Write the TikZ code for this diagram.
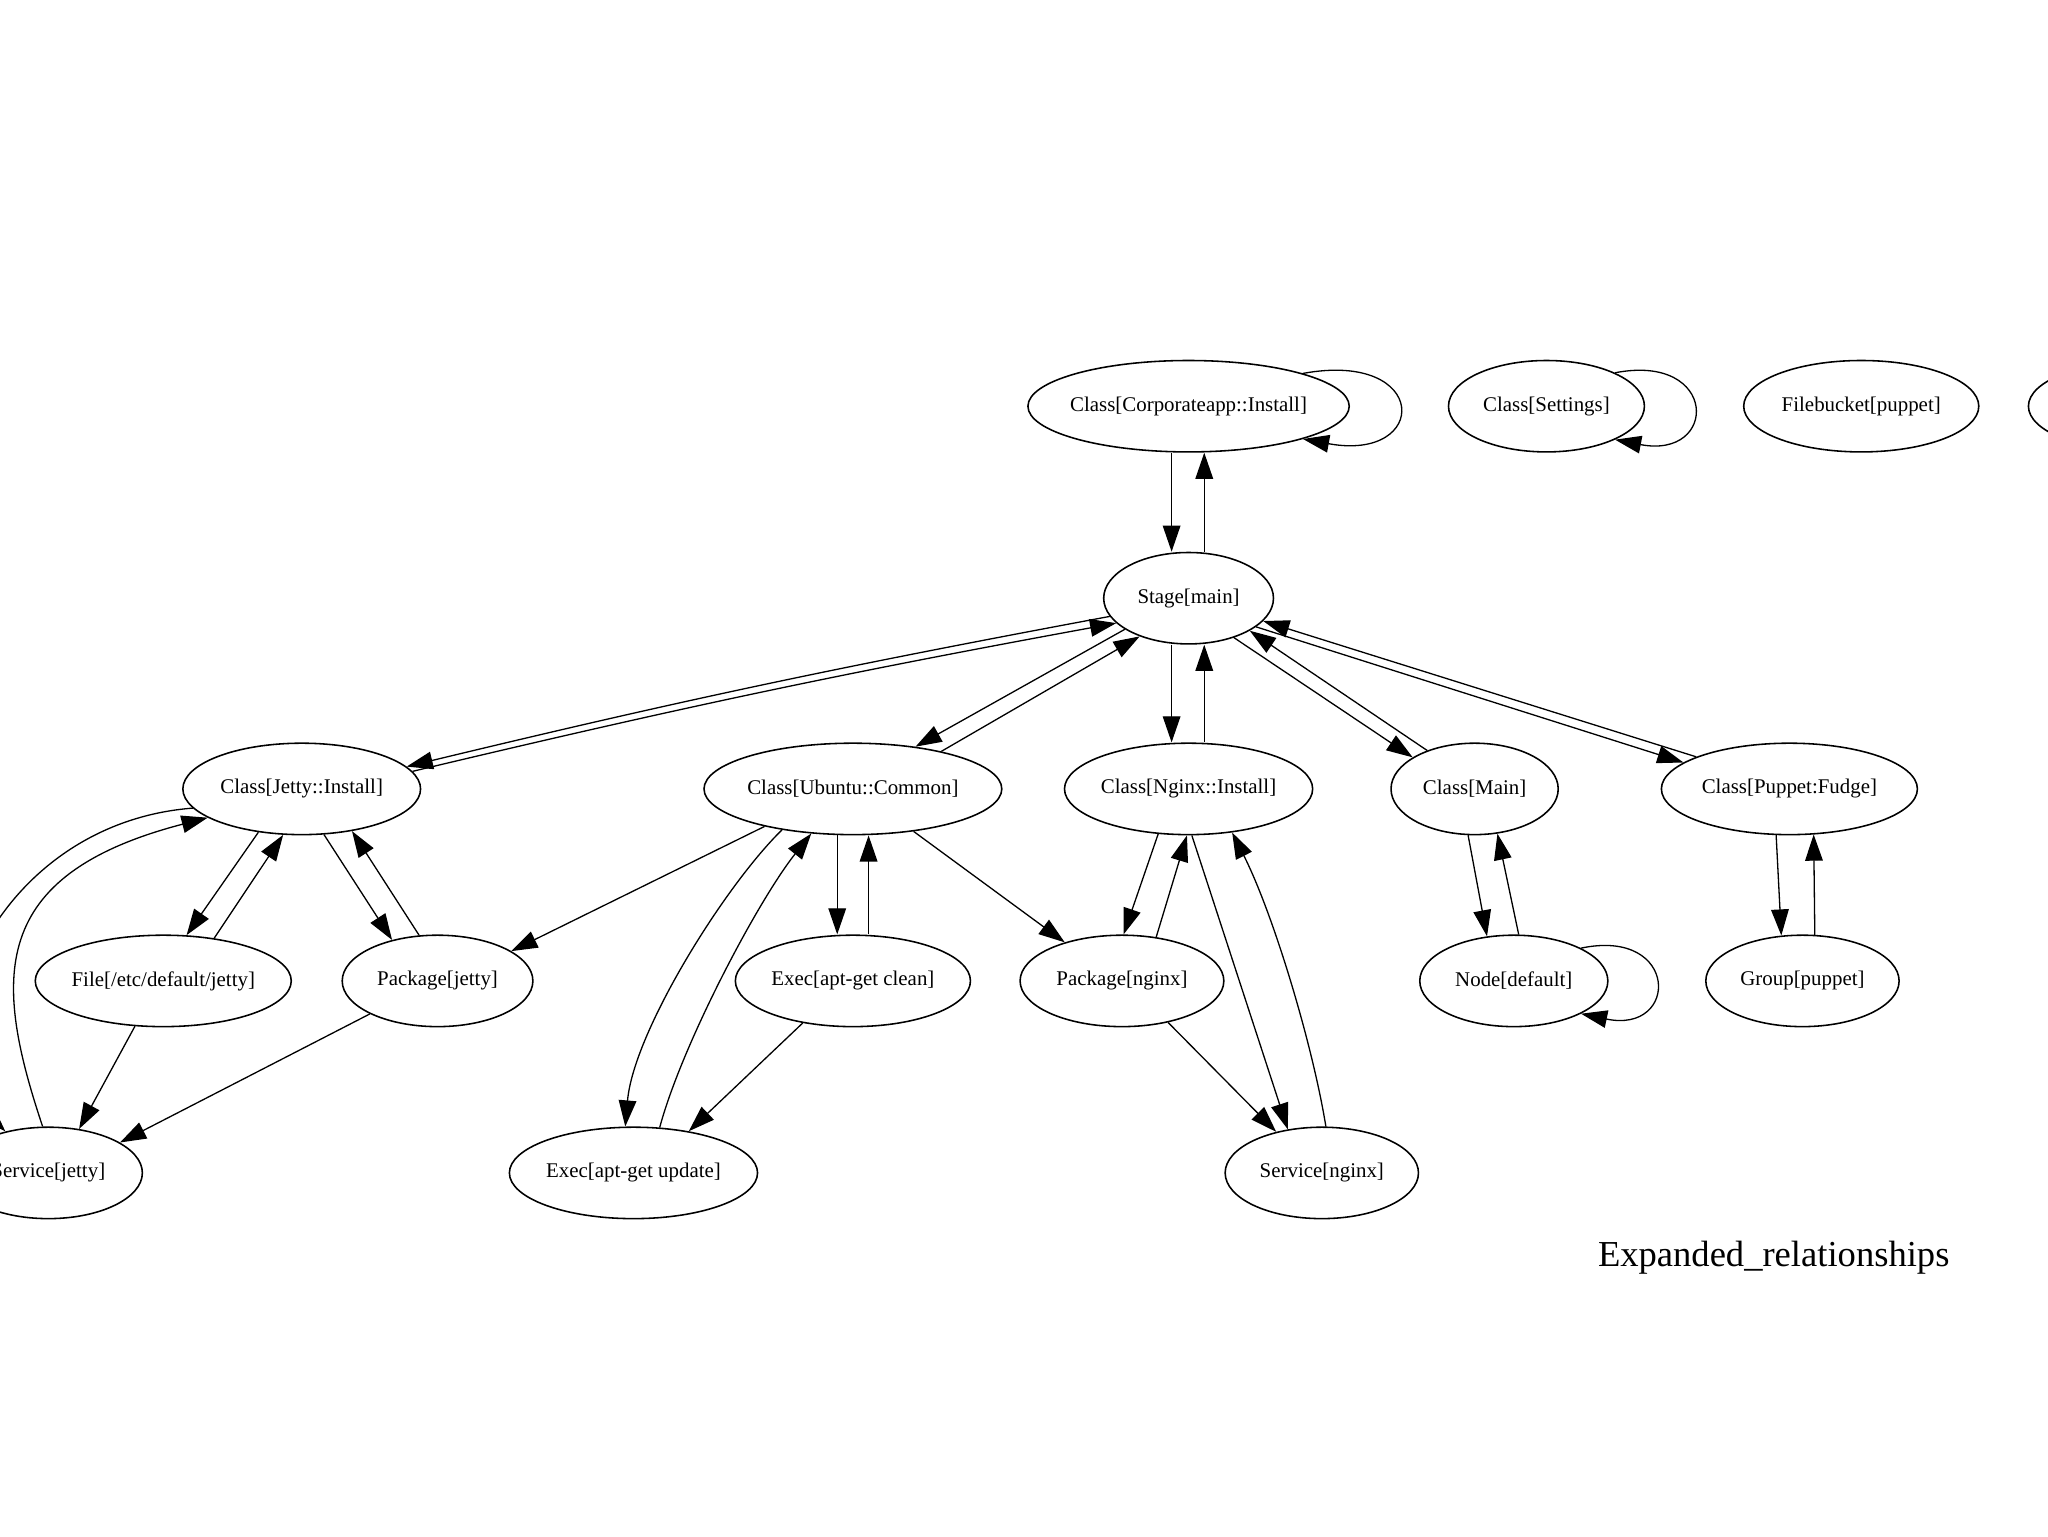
\documentclass[tikz,border=0pt]{standalone}
\usepackage{fontspec}
\setmainfont{Liberation Serif}
\usetikzlibrary{shapes.geometric,arrows.meta}
\newcommand{\gvlabel}[1]{\makebox[0pt][c]{#1}}
\tikzset{
  gv/.style={ellipse, draw, line width=1.2pt, inner sep=0pt, minimum height=70pt,
    font=\fontsize{16}{19}\selectfont},
  arr/.style={line width=1pt, -{Triangle[length=20pt,width=13.5pt]}},
  titletext/.style={font=\fontsize{28}{32}\selectfont, inner sep=0pt, anchor=base}
}
\begin{document}
\begin{tikzpicture}[x=1pt,y=-1pt]
\useasboundingbox (0,0) rectangle (1568,1176);
\fill[white] (0,0) rectangle (1568,1176);
\clip (0,0) rectangle (1568,1176);

% row 1
\node[gv, minimum width=246pt] (corp) at (910,311) {\gvlabel{Class[Corporateapp::Install]}};
\node[gv, minimum width=150pt] (settings) at (1184,311) {\gvlabel{Class[Settings]}};
\node[gv, minimum width=180pt] (filebucket) at (1425,311) {\gvlabel{Filebucket[puppet]}};
\node[gv, minimum width=180pt] (offright) at (1643,311) {};
% stage
\node[gv, minimum width=130pt] (stage) at (910,458) {\gvlabel{Stage[main]}};
% row 2
\node[gv, minimum width=182pt] (jetty) at (231,604) {\gvlabel{Class[Jetty::Install]}};
\node[gv, minimum width=228pt] (ubuntu) at (653,604) {\gvlabel{Class[Ubuntu::Common]}};
\node[gv, minimum width=190pt] (nginx) at (910,604) {\gvlabel{Class[Nginx::Install]}};
\node[gv, minimum width=128pt] (main) at (1129,604) {\gvlabel{Class[Main]}};
\node[gv, minimum width=196pt] (fudge) at (1370,604) {\gvlabel{Class[Puppet:Fudge]}};
% row 3
\node[gv, minimum width=196pt] (file) at (125,751) {\gvlabel{File[/etc/default/jetty]}};
\node[gv, minimum width=146pt] (pkgjetty) at (335,751) {\gvlabel{Package[jetty]}};
\node[gv, minimum width=180pt] (clean) at (653,751) {\gvlabel{Exec[apt-get clean]}};
\node[gv, minimum width=156pt] (pkgnginx) at (859,751) {\gvlabel{Package[nginx]}};
\node[gv, minimum width=144pt] (nodedef) at (1159,751) {\gvlabel{Node[default]}};
\node[gv, minimum width=148pt] (group) at (1380,751) {\gvlabel{Group[puppet]}};
% row 4
\node[gv, minimum width=144pt] (svcjetty) at (37,898) {\gvlabel{Service[jetty]}};
\node[gv, minimum width=190pt] (update) at (485,898) {\gvlabel{Exec[apt-get update]}};
\node[gv, minimum width=148pt] (svcnginx) at (1012,898) {\gvlabel{Service[nginx]}};
% title
\node[titletext] (title) at (1358,970) {Expanded\_relationships};

% corp <-> stage, self loops
\draw[arr] ([xshift=-13pt]corp.south) -- ([xshift=-13pt]stage.north);
\draw[arr] ([xshift=12pt]stage.north) -- ([xshift=12pt]corp.south);
\draw[arr] (corp.16) .. controls (1095,268) and (1095,354) .. (corp.-16);
\draw[arr] (settings.26) .. controls (1316,270) and (1316,352) .. (settings.-26);
\draw[arr] (nodedef.26) .. controls (1286,710) and (1286,792) .. (nodedef.-26);

% stage <-> row 2
\draw[arr] (stage.193) to[bend right=1.5] (jetty.12);
\draw[arr] (jetty.9) to[bend left=1.5] (stage.199);
\draw[arr] (stage.206) -- (ubuntu.34);
\draw[arr] (ubuntu.23) -- (stage.218);
\draw[arr] ([xshift=-13pt]stage.south) -- ([xshift=-13pt]nginx.north);
\draw[arr] ([xshift=12pt]nginx.north) -- ([xshift=12pt]stage.south);
\draw[arr] (stage.319) -- (main.153);
\draw[arr] (main.141) -- (stage.332);
\draw[arr] (stage.337) -- (fudge.166);
\draw[arr] (fudge.161) -- (stage.343);

% jetty family
\draw[arr] (jetty.225) -- (file.63);
\draw[arr] (file.40) -- (jetty.248);
\draw[arr] (jetty.296) -- (pkgjetty.138);
\draw[arr] (pkgjetty.112) -- (jetty.320);
\draw[arr] (file.238) -- (svcjetty.55);
\draw[arr] (pkgjetty.206) -- (svcjetty.23);
\draw[arr] (jetty.190) .. controls (0,630) and (-70,790) .. (svcjetty.136);
\draw[arr] (svcjetty.97) .. controls (-5,750) and (-10,670) .. (jetty.197);

% ubuntu family
\draw[arr] (ubuntu.203) -- (pkgjetty.22);
\draw[arr] (ubuntu.210) .. controls (555,678) and (485,790) .. (update.100);
\draw[arr] (update.60) .. controls (522,800) and (580,690) .. (ubuntu.227);
\draw[arr] ([xshift=-12pt]ubuntu.south) -- ([xshift=-12pt]clean.north);
\draw[arr] ([xshift=12pt]clean.north) -- ([xshift=12pt]ubuntu.south);
\draw[arr] (ubuntu.325) -- (pkgnginx.146);
\draw[arr] (clean.220) -- (update.37);

% nginx family
\draw[arr] (nginx.236) -- (pkgnginx.88);
\draw[arr] (pkgnginx.52) -- (nginx.268);
\draw[arr] (nginx.274) -- (svcnginx.128);
\draw[arr] (svcnginx.85) .. controls (1005,800) and (975,700) .. (nginx.315);
\draw[arr] (pkgnginx.318) -- (svcnginx.138);

% main / node, fudge / group
\draw[arr] (main.262) -- (nodedef.121);
\draw[arr] (nodedef.84) -- (main.297);
\draw[arr] (fudge.254) -- (group.115);
\draw[arr] (group.75) -- (fudge.298);
\end{tikzpicture}
\end{document}
